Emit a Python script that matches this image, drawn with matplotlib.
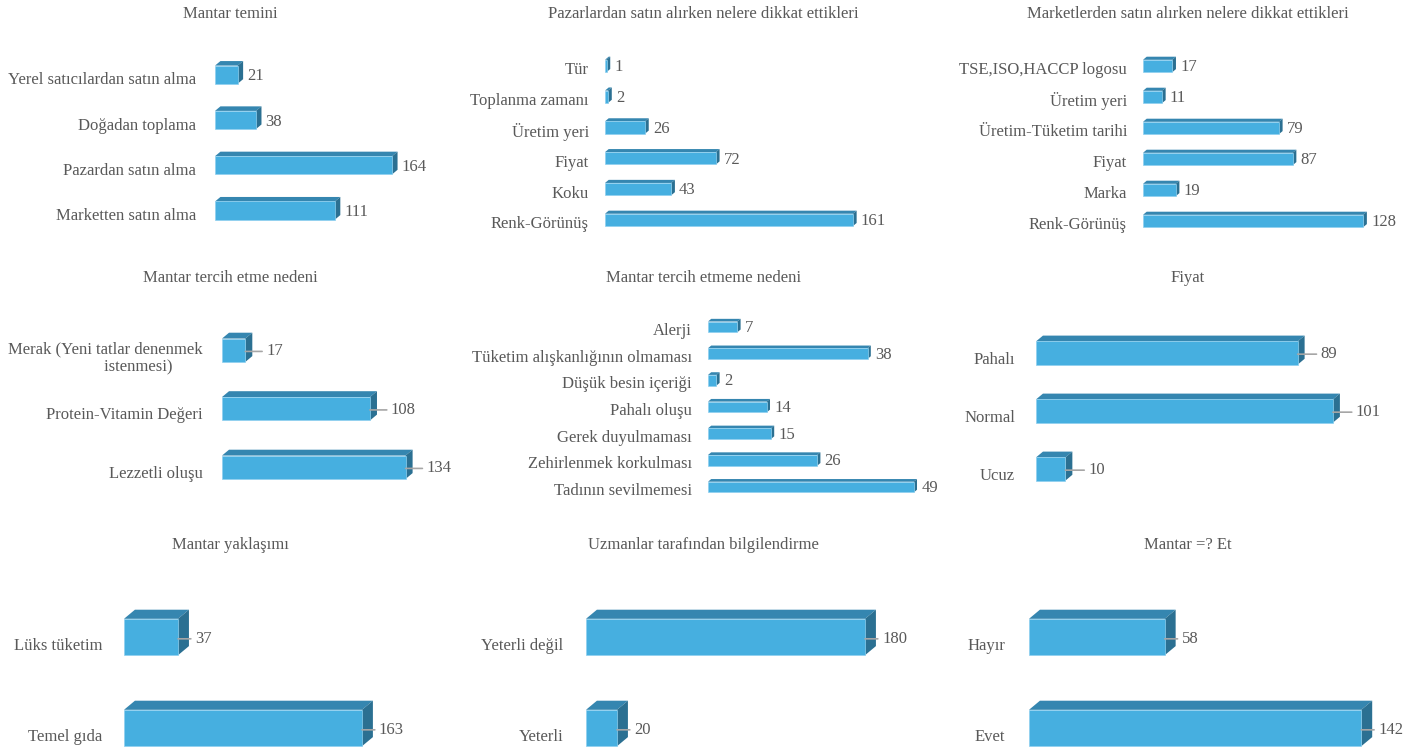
import numpy as np
import matplotlib.pyplot as plt
from matplotlib.patches import Polygon

plt.rcParams['font.family'] = ['Liberation Serif', 'DejaVu Serif']

# data for each panel (top to bottom order as shown)
temin_labels = ['Yerel satıcılardan satın alma', 'Doğadan toplama', 'Pazardan satın alma', 'Marketten satın alma']
temin_values = [21, 38, 164, 111]

pazar_labels = ['Tür', 'Toplanma zamanı', 'Üretim yeri', 'Fiyat', 'Koku', 'Renk-Görünüş']
pazar_values = [1, 2, 26, 72, 43, 161]

market_labels = ['TSE,ISO,HACCP logosu', 'Üretim yeri', 'Üretim-Tüketim tarihi', 'Fiyat', 'Marka', 'Renk-Görünüş']
market_values = [17, 11, 79, 87, 19, 128]

tercih_labels = ['Merak (Yeni tatlar denenmek\n                istenmesi)', 'Protein-Vitamin Değeri', 'Lezzetli oluşu']
tercih_values = [17, 108, 134]

tercihsiz_labels = ['Alerji', 'Tüketim alışkanlığının olmaması', 'Düşük besin içeriği', 'Pahalı oluşu',
                    'Gerek duyulmaması', 'Zehirlenmek korkulması', 'Tadının sevilmemesi']
tercihsiz_values = [7, 38, 2, 14, 15, 26, 49]

fiyat_labels = ['Pahalı', 'Normal', 'Ucuz']
fiyat_values = [89, 101, 10]

yaklasim_labels = ['Lüks tüketim', 'Temel gıda']
yaklasim_values = [37, 163]

uzman_labels = ['Yeterli değil', 'Yeterli']
uzman_values = [180, 20]

et_labels = ['Hayır', 'Evet']
et_values = [58, 142]

W, H = 1413, 750
FRONT = '#46AFE0'
TOP = '#3586B0'
SIDE = '#2B7092'
GRAY = '#595959'
FS = 12

fig = plt.figure(figsize=(W / 100, H / 100), dpi=100)


def panel(title, tx, ty, labels, values, left, top, width, spacing, scale, pad, leader=0):
    n = len(values)
    height = n * spacing
    ax = fig.add_axes([left / W, 1 - (top + height) / H, width / W, height / H])
    ax.set_xlim(0, width / scale)
    ax.set_ylim(n - 0.5, -0.5)
    y = np.arange(n)
    bh = 0.4
    ax.barh(y, values, height=bh, color=FRONT, edgecolor='#8fd0ef', linewidth=0.5, zorder=3)
    # depth of the 3D faces, in data units
    hpx = bh * spacing
    dx = 0.3 * hpx / scale
    dy = 0.25 * hpx / spacing
    for yi, v in zip(y, values):
        yt = yi - bh / 2
        yb = yi + bh / 2
        ax.add_patch(Polygon([(0, yt), (v, yt), (v + dx, yt - dy), (dx, yt - dy)],
                             closed=True, facecolor=TOP, edgecolor='none', zorder=2))
        ax.add_patch(Polygon([(v, yt), (v + dx, yt - dy), (v + dx, yb - dy), (v, yb)],
                             closed=True, facecolor=SIDE, edgecolor='none', zorder=2))
        if leader:
            # value label with a short grey leader line
            ax.annotate(str(v), xy=(v, yi + 0.02), xytext=(leader, 0), textcoords='offset pixels',
                        ha='left', va='center', fontsize=FS, color=GRAY,
                        arrowprops=dict(arrowstyle='-', color='#a6a6a6', lw=1.2,
                                        shrinkA=1, shrinkB=0), zorder=4)
        else:
            ax.annotate(str(v), xy=(v + dx, yi + 0.04), xytext=(3, 0), textcoords='offset points',
                        ha='left', va='center', fontsize=FS, color=GRAY, zorder=4)
    ax.set_yticks(y + 0.08)
    ax.set_yticklabels(labels, fontsize=FS, color=GRAY)
    for lab in ax.get_yticklabels():
        lab.set_multialignment('center')
    ax.tick_params(axis='y', length=0, pad=pad * 0.72)
    ax.set_xticks([])
    for s in ax.spines.values():
        s.set_visible(False)
    fig.text(tx / W, 1 - ty / H, title, ha='center', va='center', fontsize=FS, color=GRAY)
    return ax


panel('Mantar temini', 230, 14, temin_labels, temin_values, 215, 52, 235, 45.3, 1.08, 19)
panel('Pazarlardan satın alırken nelere dikkat ettikleri', 703, 14, pazar_labels, pazar_values,
      605, 50.5, 300, 30.8, 1.54, 16)
panel('Marketlerden satın alırken nelere dikkat ettikleri', 1188, 14, market_labels, market_values,
      1143, 50.5, 260, 31, 1.72, 16)

panel('Mantar tercih etme nedeni', 230, 278, tercih_labels, tercih_values, 222, 321, 230, 58.5, 1.37, 19,
      leader=21)
panel('Mantar tercih etmeme nedeni', 703, 278, tercihsiz_labels, tercihsiz_values, 708, 313.5, 240, 26.7, 4.2, 16)
panel('Fiyat', 1188, 278, fiyat_labels, fiyat_values, 1036, 324, 370, 58, 2.94, 21, leader=23)

panel('Mantar yaklaşımı', 230, 545, yaklasim_labels, yaklasim_values, 124, 591.5, 320, 91, 1.46, 22, leader=17)
panel('Uzmanlar tarafından bilgilendirme', 703, 545, uzman_labels, uzman_values, 586, 591.5, 340, 91, 1.55, 23,
      leader=17)
panel('Mantar =? Et', 1188, 545, et_labels, et_values, 1029, 591.5, 380, 91, 2.34, 24, leader=17)

fig.savefig('out.png', dpi=100, facecolor='white')
